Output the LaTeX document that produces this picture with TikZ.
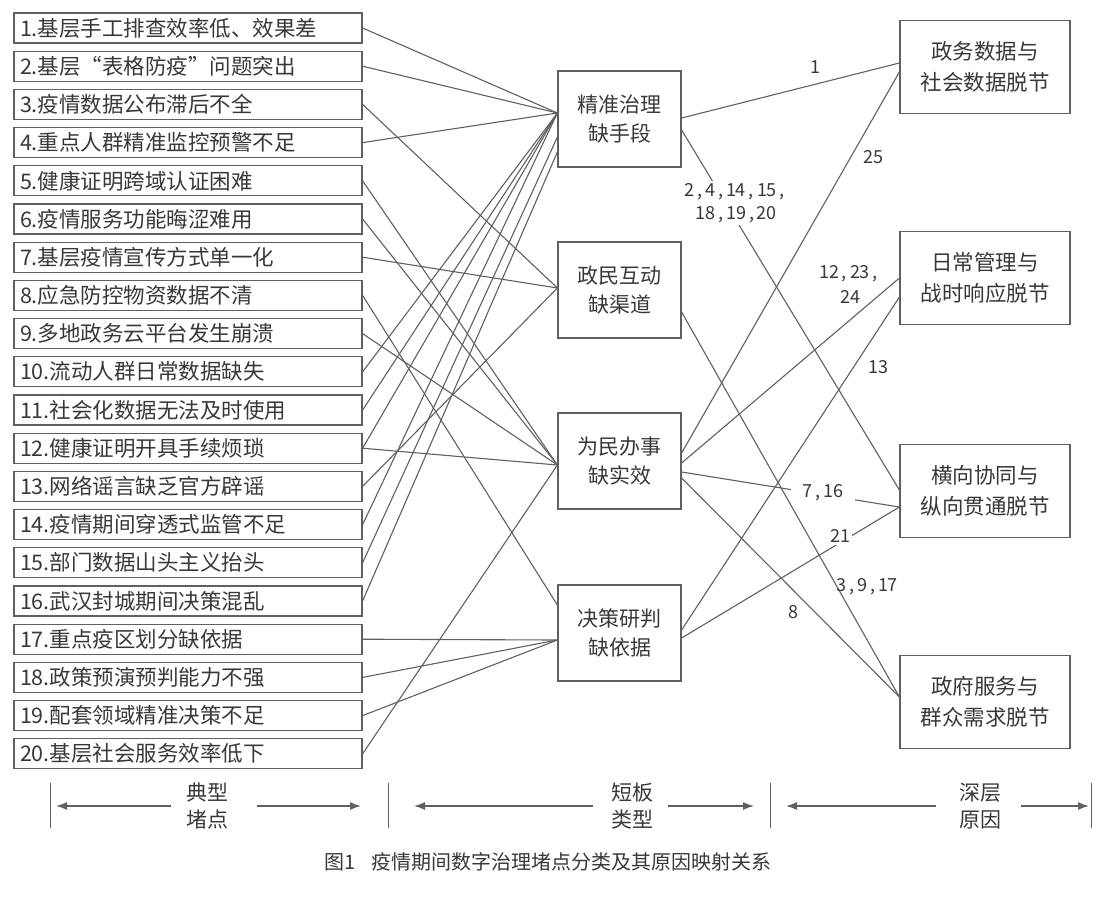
\documentclass[tikz,border=0pt]{standalone}
\usepackage{fontspec}
\newfontfamily\cjk{Noto Sans CJK SC}
\usetikzlibrary{calc,arrows.meta}
\definecolor{lc}{HTML}{606060}
\definecolor{tc}{HTML}{383838}
\newcommand{\lcomma}{\,,\,}
\begin{document}
\begin{tikzpicture}[x=1pt,y=-1pt,
  every node/.style={text=tc},
  leftbox/.style={draw=lc, line width=1.2pt, minimum height=30pt, text width=336pt, inner xsep=6pt, inner ysep=0pt, align=left, font=\cjk\fontsize{21.5}{24}\selectfont},
  midbox/.style={draw=lc, line width=1.2pt, minimum width=123pt, minimum height=96pt, align=center, inner sep=0pt, font=\cjk\fontsize{21}{29}\selectfont},
  rightbox/.style={draw=lc, line width=1.2pt, minimum width=170pt, minimum height=93pt, align=center, inner sep=0pt, font=\cjk\fontsize{21.5}{31}\selectfont},
  link/.style={draw=lc, line width=1.1pt},
  lab/.style={font=\cjk\fontsize{18}{24}\selectfont, inner sep=2pt, align=center},
  labw/.style={lab, fill=white},
  botlab/.style={font=\cjk\fontsize{21}{27}\selectfont, align=center, inner sep=0pt},
  arr/.style={draw=lc, line width=1.4pt, -{Latex[length=11pt,width=8pt]}},
  tickline/.style={draw=lc, line width=1pt},
]
\useasboundingbox (0,0) rectangle (1113,898);

% left boxes
\foreach \i/\t in {
 1/{1.基层手工排查效率低、效果差},
 2/{2.基层“表格防疫”问题突出},
 3/{3.疫情数据公布滞后不全},
 4/{4.重点人群精准监控预警不足},
 5/{5.健康证明跨域认证困难},
 6/{6.疫情服务功能晦涩难用},
 7/{7.基层疫情宣传方式单一化},
 8/{8.应急防控物资数据不清},
 9/{9.多地政务云平台发生崩溃},
 10/{10.流动人群日常数据缺失},
 11/{11.社会化数据无法及时使用},
 12/{12.健康证明开具手续烦琐},
 13/{13.网络谣言缺乏官方辟谣},
 14/{14.疫情期间穿透式监管不足},
 15/{15.部门数据山头主义抬头},
 16/{16.武汉封城期间决策混乱},
 17/{17.重点疫区划分缺依据},
 18/{18.政策预演预判能力不强},
 19/{19.配套领域精准决策不足},
 20/{20.基层社会服务效率低下}}
 \node[leftbox] (l\i) at (188,{28+(\i-1)*38.2}) {\t};

% middle boxes
\node[midbox] (m1) at (619.5,119) {精准治理\\缺手段};
\node[midbox] (m2) at (619.5,290) {政民互动\\缺渠道};
\node[midbox] (m3) at (619.5,461) {为民办事\\缺实效};
\node[midbox] (m4) at (619.5,633) {决策研判\\缺依据};

% right boxes
\node[rightbox] (r1) at (985,67) {政务数据与\\社会数据脱节};
\node[rightbox] (r2) at (985,278) {日常管理与\\战时响应脱节};
\node[rightbox] (r3) at (985,491) {横向协同与\\纵向贯通脱节};
\node[rightbox] (r4) at (985,702) {政府服务与\\群众需求脱节};

% entry points on middle boxes
\coordinate (t1) at ($(m1.west)+(0,-6)$);
\coordinate (t1b) at ($(m1.west)+(0,18)$);
\coordinate (t1c) at ($(m1.west)+(0,33)$);
\coordinate (t2) at ($(m2.west)+(0,-2)$);
\coordinate (t3) at ($(m3.west)+(0,4)$);
\coordinate (t4) at ($(m4.west)+(0,7)$);
\coordinate (t4a) at ($(m4.west)+(0,-28)$);

\foreach \a/\b in {1/t1,2/t1,3/t2,4/t1,5/t3,6/t3,7/t2,8/t4a,9/t3,10/t1,11/t1,12/t1,12/t3,13/t2,14/t1,15/t1b,16/t1c,17/t4,18/t4,19/t4,20/t3}
 \draw[link] (l\a.east) -- (\b);

% middle to right
\draw[link] ($(m1.east)+(0,-1)$) -- ($(r1.west)+(0,-4)$);
\draw[link] ($(m1.east)+(0,11)$) -- ($(r3.west)+(0,-1)$);
\draw[link] ($(m2.east)+(0,22)$) -- ($(r4.west)+(0,-5)$);
\draw[link] ($(m3.east)+(0,-8)$) -- ($(r1.west)+(0,5)$);
\draw[link] ($(m3.east)+(0,2)$) -- (r2.west);
\draw[link] ($(m3.east)+(0,11)$) -- ($(r3.west)+(0,16)$);
\draw[link] ($(m3.east)+(0,17)$) -- ($(r4.west)+(0,-5)$);
\draw[link] ($(m4.east)+(0,-3)$) -- ($(r2.west)+(0,19)$);
\draw[link] ($(m4.east)+(0,5)$) -- ($(r3.west)+(0,16)$);

% labels
\node[lab] (n1) at (815,67) {1};
\node[labw, font=\cjk\fontsize{18}{23}\selectfont] (n2) at (736,203) {2\lcomma4\lcomma14\lcomma15\lcomma\\18\lcomma19\lcomma20};
\node[lab] (n25) at (873,157) {25};
\node[lab, font=\cjk\fontsize{18}{25}\selectfont] (n12) at (850,284) {12\lcomma23\lcomma\\24};
\node[lab] (n13) at (878,367) {13};
\node[labw, inner xsep=12pt] (n7) at (823,493) {7\lcomma16};
\node[labw] (n21) at (840,536) {21};
\node[lab] (n3) at (867,587) {3\lcomma9\lcomma17};
\node[lab] (n8) at (793,612) {8};

% bottom scale
\coordinate (k1) at (50,806);
\coordinate (k2) at (388,806);
\coordinate (k3) at (770,806);
\coordinate (k4) at (1091,806);
\foreach \k in {k1,k2,k3,k4}
 \draw[tickline] ($(\k)+(0,-23)$) -- ($(\k)+(0,22)$);
\node[botlab] (b1) at (207,806) {典型\\堵点};
\node[botlab] (b2) at (632,806) {短板\\类型};
\node[botlab] (b3) at (980,806) {深层\\原因};
\draw[arr] ($(b1)+(-36,0)$) -- ($(k1)+(6,0)$);
\draw[arr] ($(b1)+(50,0)$) -- ($(k2)+(-27,0)$);
\draw[arr] ($(b2)+(-39,0)$) -- ($(k2)+(26,0)$);
\draw[arr] ($(b2)+(36,0)$) -- ($(k3)+(-16,0)$);
\draw[arr] ($(b3)+(-44,0)$) -- ($(k3)+(16,0)$);
\draw[arr] ($(b3)+(41,0)$) -- ($(k4)+(-2,0)$);

\node[font=\cjk\fontsize{20}{24}\selectfont] (cap) at (548,862) {图1\hspace{16pt}疫情期间数字治理堵点分类及其原因映射关系};
\end{tikzpicture}
\end{document}
